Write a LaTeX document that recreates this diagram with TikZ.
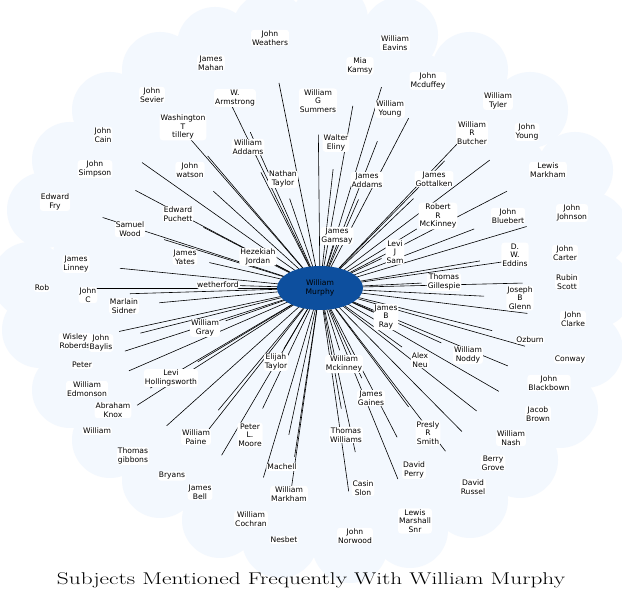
\documentclass[tikz,border=0pt]{standalone}
\usepackage{fontspec}
\newfontfamily\lbl{DejaVu Sans}
\usetikzlibrary{shapes.geometric,calc}
\definecolor{cloud}{HTML}{F3F8FE}
\definecolor{hub}{HTML}{0D4F9E}
\tikzset{lab/.style={font=\lbl\fontsize{7.6}{8.6}\selectfont,align=center,fill=white,inner sep=1pt,rounded corners=3pt},
spoke/.style={draw=black,line width=0.6pt}}
\begin{document}
\begin{tikzpicture}[x=1pt,y=-1pt]
\useasboundingbox (0,0) rectangle (622,601);
\fill[white] (0,0) rectangle (622,601);
\fill[cloud] (316,285) ellipse (265 and 255);
\foreach \x/\y in {270/30,330/20,400/35,470/70,530/110,575/170,590/230,595/290,585/350,560/410,520/460,470/500,410/530,350/545,280/540,220/520,160/480,110/440,70/390,40/330,30/280,45/210,70/160,110/110,160/70,215/45}
  \fill[cloud] (\x,\y) circle (38);
\coordinate (c) at (320,288);
\foreach \i/\x/\y/\t in {
1/270/38/{John\\Weathers},2/211/63/{James\\Mahan},3/395/43/{William\\Eavins},4/360/66/{Mia\\Kamsy},
5/428/81/{John\\Mcduffey},6/498/101/{William\\Tyler},7/152/95/{John\\Sevier},8/235/98/{W.\\Armstrong},
9/318/101/{William\\G\\Summers},10/390/109/{William\\Young},11/183/127/{Washington\\T\\tillery},
12/472/133/{William\\R\\Butcher},13/527/132/{John\\Young},14/248/147/{William\\Addams},15/336/143/{Walter\\Eliny},
16/103/135/{John\\Cain},17/95/169/{John\\Simpson},18/190/170/{John\\watson},19/283/179/{Nathan\\Taylor},
20/367/180/{James\\Addams},21/434/179/{James\\Gottalken},22/548/170/{Lewis\\Markham},23/55/202/{Edward\\Fry},
24/178/214/{Edward\\Puchett},25/438/216/{Robert\\R\\McKinney},26/508/216/{John\\Bluebert},27/572/213/{John\\Johnson},
28/130/229/{Samuel\\Wood},29/337/236/{James\\Gamsay},30/395/252/{Levi\\J\\Sam},31/515/255/{D.\\W.\\Eddins},
32/565/253/{John\\Carter},33/185/257/{James\\Yates},34/258/257/{Hezekiah\\Jordan},35/76/264/{James\\Linney},
36/444/282/{Thomas\\Gillespie},37/520/298/{Joseph\\B\\Glenn},38/567/282/{Rubin\\Scott},39/42/288/{Rob},
40/88/295/{John\\C},41/218/285/{wetherford},42/124/306/{Marlain\\Sidner},43/205/328/{William\\Gray},
44/386/317/{James\\B\\Ray},45/573/319/{John\\Clarke},46/530/340/{Ozburn},47/75/341/{Wisley\\Roberds},
48/101/343/{John\\Baylis},49/468/355/{William\\Noddy},50/276/362/{Elijah\\Taylor},51/344/364/{William\\Mckinney},
52/420/360/{Alex\\Neu},53/570/359/{Conway},54/171/378/{Levi\\Hollingsworth},55/82/365/{Peter},
56/87/389/{William\\Edmonson},57/549/383/{John\\Blackbown},58/371/398/{James\\Gaines},59/113/410/{Abraham\\Knox},
60/538/414/{Jacob\\Brown},61/428/433/{Presly\\R\\Smith},62/196/437/{William\\Paine},63/250/435/{Peter\\L.\\Moore},
64/346/435/{Thomas\\Williams},65/511/438/{William\\Nash},66/97/431/{William},67/133/456/{Thomas\\gibbons},
68/414/470/{David\\Perry},69/172/476/{Bryans},70/282/467/{Machell},71/493/463/{Berry\\Grove},
72/363/488/{Casin\\Slon},73/473/487/{David\\Russel},74/289/494/{William\\Markham},75/200/492/{James\\Bell},
76/251/519/{William\\Cochran},77/415/521/{Lewis\\Marshall\\Snr},78/355/536/{John\\Norwood},79/284/540/{Nesbet}}
  \draw[spoke] (c) -- ($(c)!0.82!(\x,\y)$);
\foreach \i/\x/\y/\t in {
1/270/38/{John\\Weathers},2/211/63/{James\\Mahan},3/395/43/{William\\Eavins},4/360/66/{Mia\\Kamsy},
5/428/81/{John\\Mcduffey},6/498/101/{William\\Tyler},7/152/95/{John\\Sevier},8/235/98/{W.\\Armstrong},
9/318/101/{William\\G\\Summers},10/390/109/{William\\Young},11/183/127/{Washington\\T\\tillery},
12/472/133/{William\\R\\Butcher},13/527/132/{John\\Young},14/248/147/{William\\Addams},15/336/143/{Walter\\Eliny},
16/103/135/{John\\Cain},17/95/169/{John\\Simpson},18/190/170/{John\\watson},19/283/179/{Nathan\\Taylor},
20/367/180/{James\\Addams},21/434/179/{James\\Gottalken},22/548/170/{Lewis\\Markham},23/55/202/{Edward\\Fry},
24/178/214/{Edward\\Puchett},25/438/216/{Robert\\R\\McKinney},26/508/216/{John\\Bluebert},27/572/213/{John\\Johnson},
28/130/229/{Samuel\\Wood},29/337/236/{James\\Gamsay},30/395/252/{Levi\\J\\Sam},31/515/255/{D.\\W.\\Eddins},
32/565/253/{John\\Carter},33/185/257/{James\\Yates},34/258/257/{Hezekiah\\Jordan},35/76/264/{James\\Linney},
36/444/282/{Thomas\\Gillespie},37/520/298/{Joseph\\B\\Glenn},38/567/282/{Rubin\\Scott},39/42/288/{Rob},
40/88/295/{John\\C},41/218/285/{wetherford},42/124/306/{Marlain\\Sidner},43/205/328/{William\\Gray},
44/386/317/{James\\B\\Ray},45/573/319/{John\\Clarke},46/530/340/{Ozburn},47/75/341/{Wisley\\Roberds},
48/101/343/{John\\Baylis},49/468/355/{William\\Noddy},50/276/362/{Elijah\\Taylor},51/344/364/{William\\Mckinney},
52/420/360/{Alex\\Neu},53/570/359/{Conway},54/171/378/{Levi\\Hollingsworth},55/82/365/{Peter},
56/87/389/{William\\Edmonson},57/549/383/{John\\Blackbown},58/371/398/{James\\Gaines},59/113/410/{Abraham\\Knox},
60/538/414/{Jacob\\Brown},61/428/433/{Presly\\R\\Smith},62/196/437/{William\\Paine},63/250/435/{Peter\\L.\\Moore},
64/346/435/{Thomas\\Williams},65/511/438/{William\\Nash},66/97/431/{William},67/133/456/{Thomas\\gibbons},
68/414/470/{David\\Perry},69/172/476/{Bryans},70/282/467/{Machell},71/493/463/{Berry\\Grove},
72/363/488/{Casin\\Slon},73/473/487/{David\\Russel},74/289/494/{William\\Markham},75/200/492/{James\\Bell},
76/251/519/{William\\Cochran},77/415/521/{Lewis\\Marshall\\Snr},78/355/536/{John\\Norwood},79/284/540/{Nesbet}}
  \node[lab] (n\i) at (\x,\y) {\t};
\node[ellipse,fill=hub,minimum width=86pt,minimum height=44pt,inner sep=0pt,align=center,font=\lbl\fontsize{7.6}{8.6}\selectfont] (hubnode) at (c) {William\\Murphy};
\node[font=\fontsize{17}{19}\selectfont,xscale=1.37,transform shape] (title) at (311,580) {Subjects Mentioned Frequently With William Murphy};
\end{tikzpicture}
\end{document}
